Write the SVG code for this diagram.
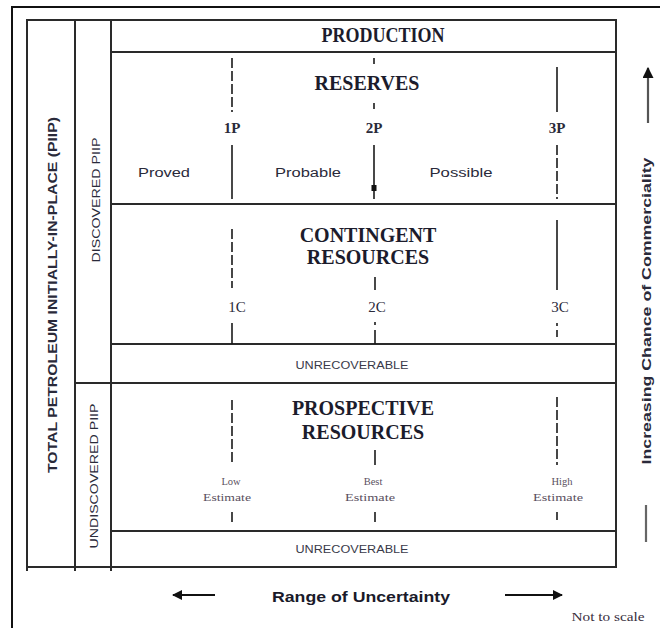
<svg xmlns="http://www.w3.org/2000/svg" width="660" height="628" viewBox="0 0 660 628">
  <style>
    .frame { fill: none; stroke: #111; stroke-width: 2; }
    .box { fill: none; stroke: #2a2a2a; stroke-width: 2; }
    .rule { stroke: #2a2a2a; stroke-width: 2; fill: none; }
    .solid { stroke: #1a1a1a; stroke-width: 1.6; fill: none; }
    .dash { stroke: #1a1a1a; stroke-width: 1.6; fill: none; stroke-dasharray: 10 3; }
    .title { font-family: "Liberation Serif", "Times New Roman", serif; font-weight: bold; font-size: 20px; fill: #1c1c2c; text-anchor: middle; }
    .mark { font-family: "Liberation Serif", "Times New Roman", serif; font-weight: bold; font-size: 15px; fill: #2a2a3a; text-anchor: middle; }
    .mark-c { font-family: "Liberation Serif", "Times New Roman", serif; font-size: 15px; fill: #2a2a3a; text-anchor: middle; }
    .cat { font-family: "Liberation Sans", Arial, sans-serif; font-size: 12px; fill: #2a2a3a; text-anchor: middle; }
    .small { font-family: "Liberation Sans", Arial, sans-serif; font-size: 10px; fill: #3a3a4a; text-anchor: middle; }
    .est { font-family: "Liberation Serif", "Times New Roman", serif; font-size: 10.5px; fill: #5a5060; text-anchor: middle; }
    .side { font-family: "Liberation Sans", Arial, sans-serif; font-size: 11px; fill: #2a2a3a; text-anchor: middle; }
    .sideb { font-family: "Liberation Sans", Arial, sans-serif; font-weight: bold; font-size: 12px; fill: #2a2a3a; text-anchor: middle; }
    .axis { font-family: "Liberation Sans", Arial, sans-serif; font-weight: bold; font-size: 15px; fill: #1a1a2a; text-anchor: middle; }
  </style>
  <defs>
    <marker id="head" viewBox="0 0 10 10" refX="9" refY="5" markerWidth="5" markerHeight="5" orient="auto" markerUnits="strokeWidth">
      <path d="M0,0 L10,5 L0,10 z" fill="#111"/>
    </marker>
  </defs>

  <rect width="660" height="628" fill="#fff"/>

  <!-- page frame -->
  <path class="frame" d="M12,628 V7 H660"/>

  <!-- classification table outline and columns -->
  <g id="table">
    <rect class="box" x="27" y="20" width="589" height="547"/>
    <line class="rule" x1="75" y1="20" x2="75" y2="571"/>
    <line class="rule" x1="111" y1="20" x2="111" y2="571"/>
    <line class="rule" x1="27" y1="567" x2="27" y2="571"/>
  </g>

  <g id="total-piip">
    <text class="sideb" transform="translate(57,295) rotate(-90)" textLength="356" lengthAdjust="spacingAndGlyphs">TOTAL PETROLEUM INITIALLY-IN-PLACE  (PIIP)</text>
  </g>

  <g id="discovered-piip">
    <text class="side" transform="translate(100,200) rotate(-90)" textLength="125" lengthAdjust="spacingAndGlyphs">DISCOVERED PIIP</text>
    <line class="rule" x1="75" y1="383" x2="616" y2="383"/>
  </g>

  <g id="undiscovered-piip">
    <text class="side" transform="translate(98,476) rotate(-90)" textLength="145" lengthAdjust="spacingAndGlyphs">UNDISCOVERED PIIP</text>
  </g>

  <g id="production">
    <line class="rule" x1="111" y1="52" x2="616" y2="52"/>
    <text class="title" x="383" y="42" font-size="17" textLength="123" lengthAdjust="spacingAndGlyphs">PRODUCTION</text>
  </g>

  <g id="reserves">
    <line class="rule" x1="111" y1="204" x2="616" y2="204"/>
    <text class="title" x="367" y="90">RESERVES</text>
    <!-- 1P -->
    <line class="dash" x1="232" y1="58" x2="232" y2="112"/>
    <text class="mark" x="232" y="133">1P</text>
    <line class="solid" x1="232" y1="145" x2="232" y2="199"/>
    <!-- 2P -->
    <line class="solid" x1="374" y1="58" x2="374" y2="64"/>
    <line class="solid" x1="374" y1="103" x2="374" y2="109"/>
    <text class="mark" x="374" y="133">2P</text>
    <line class="solid" x1="374" y1="145" x2="374" y2="199"/>
    <rect x="371.5" y="185" width="5" height="6" fill="#111"/>
    <!-- 3P -->
    <line class="solid" x1="557" y1="67" x2="557" y2="112"/>
    <text class="mark" x="557" y="133">3P</text>
    <line class="dash" x1="557" y1="145" x2="557" y2="199"/>
    <text class="cat" x="164" y="177" textLength="52" lengthAdjust="spacingAndGlyphs">Proved</text>
    <text class="cat" x="308" y="177" textLength="66" lengthAdjust="spacingAndGlyphs">Probable</text>
    <text class="cat" x="461" y="177" textLength="63" lengthAdjust="spacingAndGlyphs">Possible</text>
  </g>

  <g id="contingent-resources">
    <line class="rule" x1="111" y1="344" x2="616" y2="344"/>
    <text class="title" x="368" y="242">CONTINGENT</text>
    <text class="title" x="368" y="264">RESOURCES</text>
    <!-- 1C -->
    <line class="dash" x1="232" y1="229" x2="232" y2="288"/>
    <text class="mark-c" x="237" y="312">1C</text>
    <line class="solid" x1="232" y1="323" x2="232" y2="344"/>
    <!-- 2C -->
    <line class="solid" x1="375" y1="277" x2="375" y2="290"/>
    <text class="mark-c" x="377" y="312">2C</text>
    <line class="solid" x1="375" y1="322" x2="375" y2="325"/>
    <line class="solid" x1="375" y1="330" x2="375" y2="344"/>
    <!-- 3C -->
    <line class="solid" x1="557" y1="220" x2="557" y2="290"/>
    <text class="mark-c" x="560" y="312">3C</text>
    <line class="solid" x1="557" y1="323" x2="557" y2="326"/>
    <line class="solid" x1="557" y1="330" x2="557" y2="337"/>
  </g>

  <g id="unrecoverable-discovered">
    <text class="small" x="352" y="369" textLength="113" lengthAdjust="spacingAndGlyphs">UNRECOVERABLE</text>
  </g>

  <g id="prospective-resources">
    <line class="rule" x1="111" y1="531" x2="616" y2="531"/>
    <text class="title" x="363" y="415">PROSPECTIVE</text>
    <text class="title" x="363" y="439">RESOURCES</text>
    <!-- low -->
    <line class="dash" x1="232" y1="400" x2="232" y2="465"/>
    <text class="est" x="231" y="485">Low</text>
    <text class="est" x="227" y="501" textLength="48" lengthAdjust="spacingAndGlyphs">Estimate</text>
    <line class="solid" x1="232" y1="512" x2="232" y2="522"/>
    <!-- best -->
    <line class="solid" x1="375" y1="450" x2="375" y2="465"/>
    <text class="est" x="373" y="485">Best</text>
    <text class="est" x="370" y="501" textLength="50" lengthAdjust="spacingAndGlyphs">Estimate</text>
    <line class="solid" x1="375" y1="512" x2="375" y2="522"/>
    <!-- high -->
    <line class="dash" x1="557" y1="397" x2="557" y2="465"/>
    <text class="est" x="562" y="485">High</text>
    <text class="est" x="558" y="501" textLength="50" lengthAdjust="spacingAndGlyphs">Estimate</text>
    <line class="solid" x1="557" y1="512" x2="557" y2="520"/>
  </g>

  <g id="unrecoverable-undiscovered">
    <text class="small" x="352" y="553" textLength="113" lengthAdjust="spacingAndGlyphs">UNRECOVERABLE</text>
  </g>

  <!-- axis arrows -->
  <g id="connectors">
    <line x1="648" y1="123" x2="648" y2="68" stroke="#555" stroke-width="2.2" marker-end="url(#head)"/>
    <line x1="646" y1="505" x2="646" y2="542" stroke="#666" stroke-width="2.2"/>
    <line x1="215" y1="595" x2="173" y2="595" stroke="#111" stroke-width="2" marker-end="url(#head)"/>
    <line x1="505" y1="595" x2="562" y2="595" stroke="#111" stroke-width="2" marker-end="url(#head)"/>
  </g>

  <g id="axis-labels">
    <text class="sideb" font-size="13" transform="translate(651,311) rotate(-90)" textLength="307" lengthAdjust="spacingAndGlyphs">Increasing Chance of Commerciality</text>
    <text class="axis" x="361" y="602" textLength="178" lengthAdjust="spacingAndGlyphs">Range of Uncertainty</text>
    <text x="608" y="621" font-family="Liberation Serif, Times New Roman, serif" font-size="12" fill="#3a3040" text-anchor="middle" textLength="73" lengthAdjust="spacingAndGlyphs">Not to scale</text>
  </g>
</svg>
